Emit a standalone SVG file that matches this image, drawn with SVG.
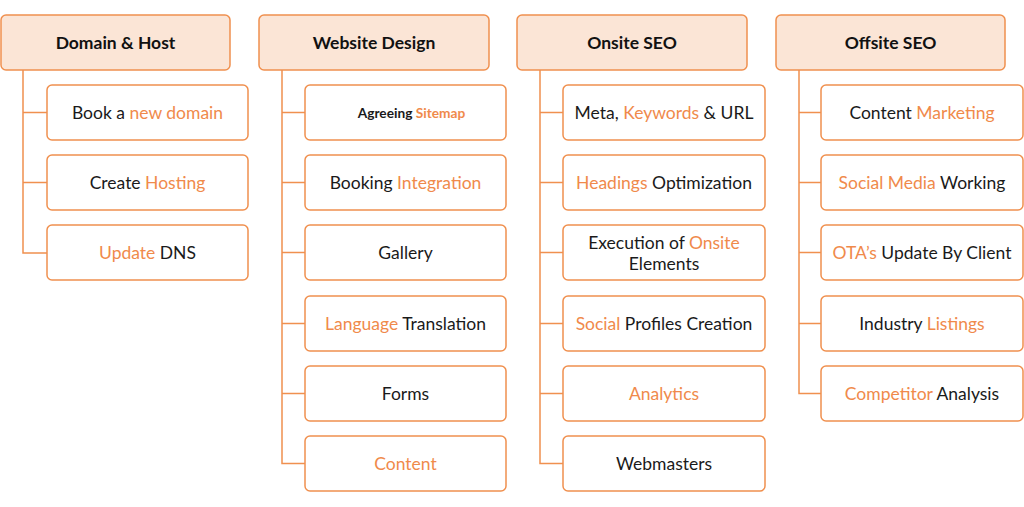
<svg xmlns="http://www.w3.org/2000/svg" width="1024" height="507" viewBox="0 0 1024 507">
<style>
text{font-family:Lato,"Open Sans","Liberation Sans",sans-serif;font-size:17.5px;fill:#1a1a1a;text-anchor:middle}
.h rect{fill:#fbe5d6;stroke:#f0904f;stroke-width:1.5}
.h text{font-weight:bold;font-size:17.5px;fill:#111}
.c rect{fill:#fff;stroke:#f0904f;stroke-width:1.5}
.o{fill:#f08a4b}
.s{font-size:13.7px;font-weight:bold}
#connectors path{fill:none;stroke:#f0904f;stroke-width:1.5}
</style>
<rect width="1024" height="507" fill="#fff"/>
<g id="connectors">
<path d="M23 70V253H47M23 112.5H47M23 182.5H47"/>
<path d="M282 70V463.5H305M282 112.5H305M282 182.5H305M282 252.5H305M282 323.5H305M282 393.5H305"/>
<path d="M540 70V463.5H563M540 112.5H563M540 182.5H563M540 252.5H563M540 323.5H563M540 393.5H563"/>
<path d="M799 70V393.5H821M799 112.5H821M799 182.5H821M799 252.5H821M799 323.5H821"/>
</g>
<g id="h1" class="h"><rect x="1" y="15" width="229" height="55" rx="5"/><text x="115.5" y="48.5">Domain &amp; Host</text></g>
<g id="h2" class="h"><rect x="259" y="15" width="230" height="55" rx="5"/><text x="374" y="48.5">Website Design</text></g>
<g id="h3" class="h"><rect x="517" y="15" width="230" height="55" rx="5"/><text x="632" y="48.5">Onsite SEO</text></g>
<g id="h4" class="h"><rect x="776" y="15" width="229" height="55" rx="5"/><text x="890.5" y="48.5">Offsite SEO</text></g>

<g id="c1-1" class="c"><rect x="47" y="85" width="201" height="55" rx="5"/><text x="147.5" y="118.5">Book a <tspan class="o">new domain</tspan></text></g>
<g id="c1-2" class="c"><rect x="47" y="155" width="201" height="55" rx="5"/><text x="147.5" y="188.5">Create <tspan class="o">Hosting</tspan></text></g>
<g id="c1-3" class="c"><rect x="47" y="225" width="201" height="55" rx="5"/><text x="147.5" y="258.5"><tspan class="o">Update</tspan> DNS</text></g>

<g id="c2-1" class="c"><rect x="305" y="85" width="201" height="55" rx="5"/><text class="s" x="411.5" y="117.5">Agreeing <tspan class="o">Sitemap</tspan></text></g>
<g id="c2-2" class="c"><rect x="305" y="155" width="201" height="55" rx="5"/><text x="405.5" y="188.5">Booking <tspan class="o">Integration</tspan></text></g>
<g id="c2-3" class="c"><rect x="305" y="225" width="201" height="55" rx="5"/><text x="405.5" y="258.5">Gallery</text></g>
<g id="c2-4" class="c"><rect x="305" y="296" width="201" height="55" rx="5"/><text x="405.5" y="329.5"><tspan class="o">Language</tspan> Translation</text></g>
<g id="c2-5" class="c"><rect x="305" y="366" width="201" height="55" rx="5"/><text x="405.5" y="399.5">Forms</text></g>
<g id="c2-6" class="c"><rect x="305" y="436" width="201" height="55" rx="5"/><text x="405.5" y="469.5" class="o">Content</text></g>

<g id="c3-1" class="c"><rect x="563" y="85" width="202" height="55" rx="5"/><text x="664" y="118.5">Meta, <tspan class="o">Keywords</tspan> &amp; URL</text></g>
<g id="c3-2" class="c"><rect x="563" y="155" width="202" height="55" rx="5"/><text x="664" y="188.5"><tspan class="o">Headings</tspan> Optimization</text></g>
<g id="c3-3" class="c"><rect x="563" y="225" width="202" height="55" rx="5"/><text x="664" y="248.5">Execution of <tspan class="o">Onsite</tspan></text><text x="664" y="269.5">Elements</text></g>
<g id="c3-4" class="c"><rect x="563" y="296" width="202" height="55" rx="5"/><text x="664" y="329.5"><tspan class="o">Social</tspan> Profiles Creation</text></g>
<g id="c3-5" class="c"><rect x="563" y="366" width="202" height="55" rx="5"/><text x="664" y="399.5" class="o">Analytics</text></g>
<g id="c3-6" class="c"><rect x="563" y="436" width="202" height="55" rx="5"/><text x="664" y="469.5">Webmasters</text></g>

<g id="c4-1" class="c"><rect x="821" y="85" width="202" height="55" rx="5"/><text x="922" y="118.5">Content <tspan class="o">Marketing</tspan></text></g>
<g id="c4-2" class="c"><rect x="821" y="155" width="202" height="55" rx="5"/><text x="922" y="188.5"><tspan class="o">Social Media</tspan> Working</text></g>
<g id="c4-3" class="c"><rect x="821" y="225" width="202" height="55" rx="5"/><text x="922" y="258.5"><tspan class="o">OTA’s</tspan> Update By Client</text></g>
<g id="c4-4" class="c"><rect x="821" y="296" width="202" height="55" rx="5"/><text x="922" y="329.5">Industry <tspan class="o">Listings</tspan></text></g>
<g id="c4-5" class="c"><rect x="821" y="366" width="202" height="55" rx="5"/><text x="922" y="399.5"><tspan class="o">Competitor</tspan> Analysis</text></g>
</svg>
